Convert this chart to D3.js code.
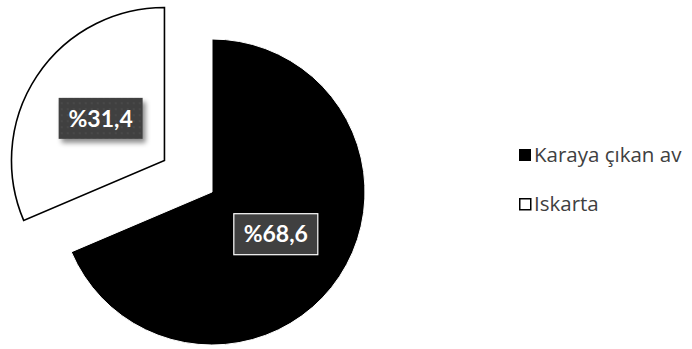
<!DOCTYPE html>
<html><head><meta charset="utf-8">
<script src="https://cdn.jsdelivr.net/npm/d3@7"></script>
<style>body{margin:0;background:#fff}svg{display:block}</style>
</head><body>
<svg id="c" width="692" height="349"></svg>
<script>
const categories = ["Karaya çıkan av", "Iskarta"];
const values = [68.6, 31.4];
const labels = ["%68,6", "%31,4"];
const fills = ["#000000", "#ffffff"];
const explode = [0, 57];

const svg = d3.select("#c");
const defs = svg.append("defs");
const f = defs.append("filter").attr("id","sh").attr("x","-30%").attr("y","-30%").attr("width","170%").attr("height","180%");
f.append("feDropShadow").attr("dx",3).attr("dy",4).attr("stdDeviation",2.5).attr("flood-color","#000").attr("flood-opacity",0.45);
const pat = defs.append("pattern").attr("id","dots").attr("width",6).attr("height",6).attr("patternUnits","userSpaceOnUse");
pat.append("rect").attr("width",6).attr("height",6).attr("fill","#404040");
pat.append("circle").attr("cx",3).attr("cy",3).attr("r",1).attr("fill","#4c4c4c");

const cx = 212, cy = 192, r = 153;
const pie = d3.pie().sort(null).value(d => d)(values);
const arc = d3.arc().innerRadius(0).outerRadius(r);
const g = svg.append("g").attr("transform", `translate(${cx},${cy})`);

pie.forEach((p, i) => {
  const mid = (p.startAngle + p.endAngle) / 2;
  const dx = Math.sin(mid) * explode[i], dy = -Math.cos(mid) * explode[i];
  const sg = g.append("g").attr("transform", `translate(${dx},${dy})`);
  sg.append("path").attr("d", arc(p)).attr("fill", fills[i])
    .attr("stroke", i === 0 ? "#fff" : "#000").attr("stroke-width", i === 0 ? 1 : 1.6)
    .attr("stroke-linejoin","miter");
});

const labelArc = d3.arc().innerRadius(r * 0.5).outerRadius(r * 0.5);
pie.forEach((p, i) => {
  const mid = (p.startAngle + p.endAngle) / 2;
  const dx = Math.sin(mid) * explode[i], dy = -Math.cos(mid) * explode[i];
  const [lx, ly] = labelArc.centroid(p);
  const x = lx + dx, y = ly + dy;
  const lg = g.append("g").attr("transform", `translate(${x},${y})`);
  const w = 84, h = 41;
  lg.append("rect").attr("x", -w/2).attr("y", -h/2).attr("width", w).attr("height", h)
    .attr("fill", i === 1 ? "url(#dots)" : "#404040")
    .attr("stroke", i === 0 ? "#fff" : "none").attr("stroke-width", 1.2)
    .attr("filter", i === 1 ? "url(#sh)" : null);
  lg.append("text").attr("text-anchor","middle").attr("dy","0.36em")
    .attr("fill","#fff").attr("font-family","Lato, 'Open Sans', sans-serif")
    .attr("font-weight","bold").attr("font-size",23).text(labels[i]);
});

const leg = svg.append("g").attr("transform","translate(519,149)");
categories.forEach((c, i) => {
  const row = leg.append("g").attr("transform", `translate(0,${i*49})`);
  row.append("rect").attr("x", i===0?0:0.75).attr("y", i===0?0:0.75)
    .attr("width", i===0?12:11).attr("height", i===0?12:11)
    .attr("fill", fills[i]).attr("stroke","#000").attr("stroke-width", i===0?0:1.5);
  row.append("text").attr("x", 15).attr("y", 13).attr("fill","#404040")
    .attr("font-family","'Open Sans', sans-serif").attr("font-size",20.5).text(c);
});
</script>
</body></html>
